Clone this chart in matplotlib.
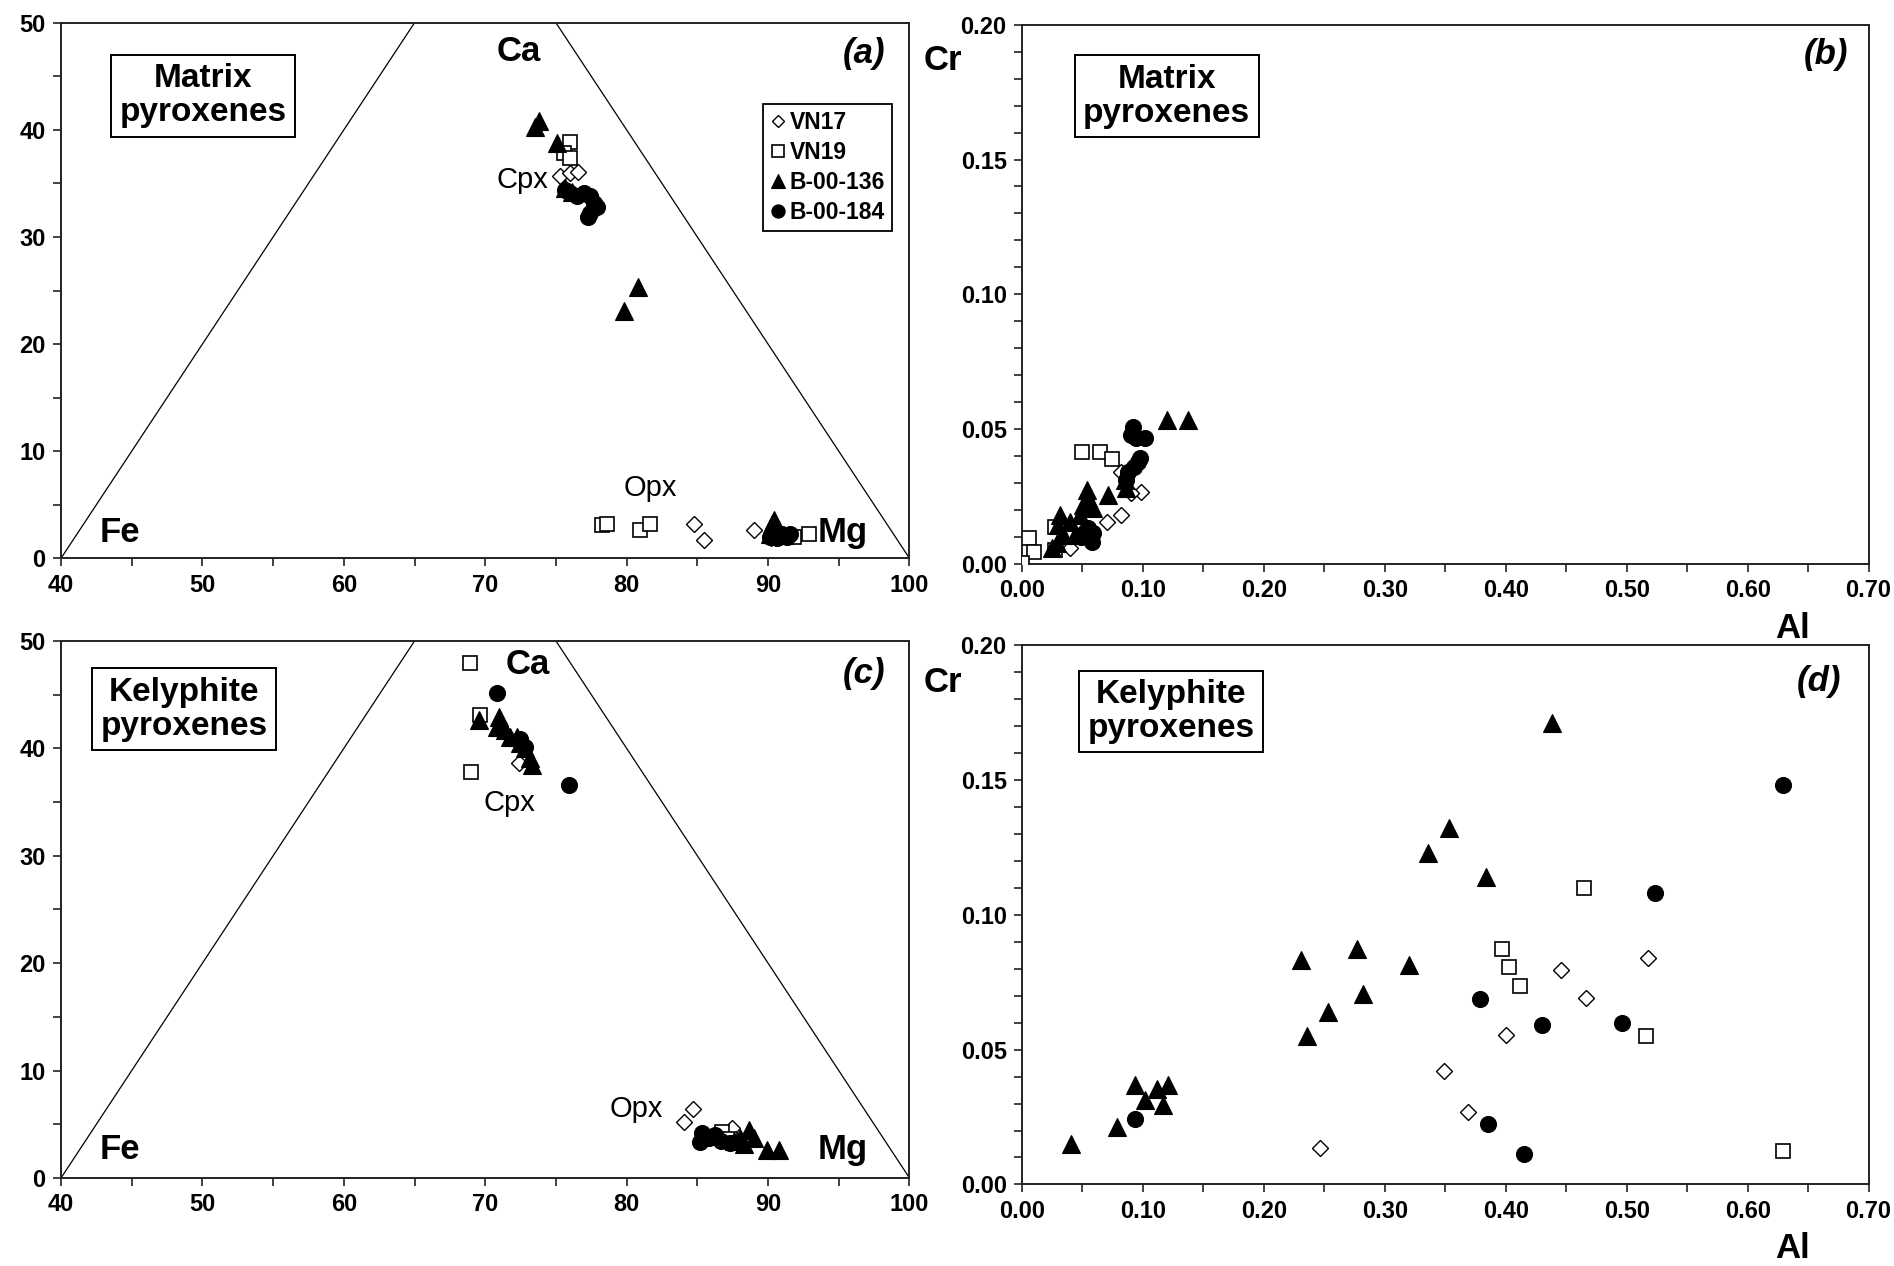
import matplotlib
matplotlib.use("Agg")
import matplotlib.pyplot as plt
from matplotlib.ticker import MultipleLocator, FormatStrFormatter
from matplotlib.lines import Line2D

plt.rcParams['font.family'] = ['Liberation Sans', 'DejaVu Sans']

# ---------------- data ----------------
# Panel (a) Matrix pyroxenes, ternary projection (x = Mg-axis, y = Ca)
a_vn17_x = [75.3, 75.97, 76.53, 84.74, 85.45, 88.99, 90.2]
a_vn17_y = [35.7, 35.95, 36.1, 3.24, 1.75, 2.62, 1.9]
a_vn19_x = [76.0, 75.54, 76.0, 78.26, 78.61, 80.97, 81.68, 91.82, 92.88]
a_vn19_y = [38.9, 37.8, 37.35, 3.08, 3.24, 2.62, 3.24, 1.99, 2.3]
a_b136_x = [73.82, 73.49, 75.07, 75.66, 76.1, 79.79, 80.81, 90.4, 90.28, 90.17, 90.64, 91.1]
a_b136_y = [40.87, 40.25, 38.8, 34.55, 34.2, 23.1, 25.3, 3.55, 3.24, 2.3, 2.62, 2.15]
a_b184_x = [75.66, 76.0, 76.5, 76.96, 77.4, 77.67, 77.9, 77.43, 77.3, 90.88, 91.35, 91.58, 90.17, 90.64]
a_b184_y = [34.4, 34.1, 33.8, 34.1, 33.8, 33.15, 32.8, 32.2, 31.9, 2.3, 2.0, 2.3, 2.0, 1.85]

# Panel (b) Matrix pyroxenes, Cr vs Al
b_vn17_x = [0.0986, 0.0904, 0.0822, 0.0699, 0.0822, 0.0397]
b_vn17_y = [0.0268, 0.0262, 0.0182, 0.0157, 0.0342, 0.0058]
b_vn19_x = [0.0493, 0.0644, 0.074, 0.0055, 0.0096, 0.0, 0.0274, 0.0274]
b_vn19_y = [0.0417, 0.0414, 0.039, 0.0095, 0.0046, 0.0002, 0.0052, 0.0138]
b_b136_x = [0.12, 0.137, 0.0534, 0.0548, 0.0589, 0.0712, 0.085, 0.0863, 0.0315, 0.0301,
            0.0342, 0.0288, 0.0247, 0.0397, 0.0438, 0.048, 0.0507]
b_b136_y = [0.0534, 0.0534, 0.0274, 0.0243, 0.0206, 0.0256, 0.0311, 0.028, 0.0182, 0.0145,
            0.0108, 0.0077, 0.0058, 0.0157, 0.0108, 0.0182, 0.0219]
b_b184_x = [0.0918, 0.0904, 0.0945, 0.1014, 0.0959, 0.093, 0.0973, 0.0877, 0.086,
            0.0548, 0.059, 0.049, 0.052, 0.0575]
b_b184_y = [0.0509, 0.0478, 0.0466, 0.0466, 0.038, 0.036, 0.0392, 0.0342, 0.031,
            0.0132, 0.0114, 0.0101, 0.012, 0.0083]

# Panel (c) Kelyphite pyroxenes, ternary projection
c_vn17_x = [72.36, 84.70, 84.03, 87.45]
c_vn17_y = [38.6, 6.40, 5.24, 4.63]
c_vn19_x = [68.89, 69.6, 69.0, 86.74, 87.3]
c_vn19_y = [47.98, 43.1, 37.83, 4.31, 3.6]
c_b136_x = [69.53, 71.0, 70.83, 71.42, 71.77, 72.24, 72.48, 72.83, 73.18, 73.3,
            88.63, 88.04, 89.0, 89.93, 90.75, 87.6, 88.3]
c_b136_y = [42.64, 42.95, 42.0, 41.7, 41.1, 41.1, 40.5, 40.0, 39.1, 38.45,
            4.47, 3.7, 3.7, 2.6, 2.6, 3.4, 3.2]
c_b184_x = [70.83, 72.48, 72.83, 75.9, 85.33, 85.2, 85.8, 86.27, 86.7, 87.33]
c_b184_y = [45.13, 40.9, 40.16, 36.6, 4.16, 3.38, 3.7, 4.0, 3.4, 3.23]

# Panel (d) Kelyphite pyroxenes, Cr vs Al
d_vn17_x = [0.246, 0.349, 0.369, 0.400, 0.446, 0.466, 0.518]
d_vn17_y = [0.0136, 0.042, 0.0269, 0.0556, 0.0795, 0.0693, 0.0841]
d_vn19_x = [0.397, 0.403, 0.412, 0.465, 0.516, 0.629]
d_vn19_y = [0.0873, 0.0808, 0.0735, 0.110, 0.0552, 0.0123]
d_b136_x = [0.0407, 0.0783, 0.0935, 0.1017, 0.1119, 0.1168, 0.121, 0.231, 0.236,
            0.253, 0.277, 0.282, 0.320, 0.336, 0.353, 0.438, 0.384]
d_b136_y = [0.0150, 0.0212, 0.0368, 0.0315, 0.0355, 0.0295, 0.0368, 0.0834, 0.055,
            0.064, 0.0874, 0.0705, 0.0815, 0.123, 0.132, 0.171, 0.114]
d_b184_x = [0.0935, 0.379, 0.385, 0.415, 0.430, 0.496, 0.523, 0.629]
d_b184_y = [0.0242, 0.0689, 0.0223, 0.0113, 0.0593, 0.060, 0.108, 0.148]

series_names = ['VN17', 'VN19', 'B-00-136', 'B-00-184']
legend_labels = ['VN17', 'VN19', 'B-00-136', 'B-00-184']

# ---------------- styles ----------------
styles = {
    'VN17': dict(marker='D', ms=8.5, mfc='white', mec='black', mew=1.0),
    'VN19': dict(marker='s', ms=10.5, mfc='white', mec='black', mew=1.2),
    'B-00-136': dict(marker='^', ms=12.5, mfc='black', mec='black', mew=0.8),
    'B-00-184': dict(marker='o', ms=11.5, mfc='black', mec='black', mew=0.8),
}

fig = plt.figure(figsize=(18.94, 12.66), dpi=100)
fig.patch.set_facecolor('white')

pos = {
    'a': [0.0322, 0.559, 0.448, 0.423],
    'b': [0.5396, 0.5545, 0.447, 0.426],
    'c': [0.0322, 0.0695, 0.448, 0.4242],
    'd': [0.5396, 0.0644, 0.447, 0.4261],
}

tick_fs = 17
bold = 'bold'


def style_axes(ax):
    for s in ax.spines.values():
        s.set_linewidth(1.4)
        s.set_color('#222222')
    ax.tick_params(which='both', direction='out', top=False, right=False,
                   width=1.2, color='#222222')
    ax.tick_params(which='major', length=6, labelsize=tick_fs, pad=5)
    ax.tick_params(which='minor', length=6)
    for lab in ax.get_xticklabels() + ax.get_yticklabels():
        lab.set_fontweight(bold)


def plot_series(ax, data):
    for name, (xs, ys) in zip(series_names, data):
        st = styles[name]
        ax.plot(xs, ys, ls='none', marker=st['marker'], ms=st['ms'],
                mfc=st['mfc'], mec=st['mec'], mew=st['mew'], zorder=3)


def ternary(ax, data):
    ax.set_xlim(40, 100)
    ax.set_ylim(0, 50)
    ax.plot([40, 70], [0, 60], color='black', lw=0.9, zorder=2)
    ax.plot([100, 70], [0, 60], color='black', lw=0.9, zorder=2)
    ax.xaxis.set_major_locator(MultipleLocator(10))
    ax.xaxis.set_minor_locator(MultipleLocator(5))
    ax.yaxis.set_major_locator(MultipleLocator(10))
    ax.yaxis.set_minor_locator(MultipleLocator(5))
    plot_series(ax, data)
    style_axes(ax)


def crplot(ax, data):
    ax.set_xlim(0, 0.7)
    ax.set_ylim(0, 0.2)
    ax.xaxis.set_major_locator(MultipleLocator(0.1))
    ax.xaxis.set_minor_locator(MultipleLocator(0.05))
    ax.yaxis.set_major_locator(MultipleLocator(0.05))
    ax.yaxis.set_minor_locator(MultipleLocator(0.01))
    ax.xaxis.set_major_formatter(FormatStrFormatter('%.2f'))
    ax.yaxis.set_major_formatter(FormatStrFormatter('%.2f'))
    plot_series(ax, data)
    style_axes(ax)
    for s in ax.spines.values():
        s.set_clip_on(False)


box_kw = dict(boxstyle='square,pad=0.25', fc='white', ec='black', lw=1.4)
big_fs = 24
lab_fs = 25

# ---- (a)
axa = fig.add_axes(pos['a'])
ternary(axa, [(a_vn17_x, a_vn17_y), (a_vn19_x, a_vn19_y),
              (a_b136_x, a_b136_y), (a_b184_x, a_b184_y)])
axa.text(0.1675, 0.8636, 'Matrix\npyroxenes', transform=axa.transAxes, ha='center',
         va='center', fontsize=big_fs, fontweight='bold', linespacing=1.12, bbox=box_kw, zorder=5)
axa.text(0.947, 0.942, '(a)', transform=axa.transAxes, ha='center', va='center',
         fontsize=25, fontweight='bold', style='italic')
axa.text(72.4, 47.3, 'Ca', ha='center', va='center', fontsize=lab_fs, fontweight='bold')
axa.text(44.2, 2.4, 'Fe', ha='center', va='center', fontsize=lab_fs, fontweight='bold')
axa.text(95.3, 2.4, 'Mg', ha='center', va='center', fontsize=lab_fs, fontweight='bold')
axa.text(72.6, 35.3, 'Cpx', ha='center', va='center', fontsize=21)
axa.text(81.7, 6.6, 'Opx', ha='center', va='center', fontsize=21)

handles = []
leg_ms = {'VN17': 6.5, 'VN19': 9, 'B-00-136': 10, 'B-00-184': 9.5}
for name in series_names:
    st = styles[name]
    handles.append(Line2D([], [], ls='none', marker=st['marker'], ms=leg_ms[name],
                          mfc=st['mfc'], mec=st['mec'], mew=st['mew']))
leg = axa.legend(handles, legend_labels, loc='upper right', bbox_to_anchor=(0.979, 0.848),
                 frameon=True, fancybox=False, edgecolor='black', framealpha=1,
                 prop=dict(weight='bold', size=16.5), handlelength=0.7, handletextpad=0.15,
                 borderpad=0.3, labelspacing=0.3, borderaxespad=0)
leg.get_frame().set_linewidth(1.3)

# ---- (b)
axb = fig.add_axes(pos['b'])
crplot(axb, [(b_vn17_x, b_vn17_y), (b_vn19_x, b_vn19_y),
             (b_b136_x, b_b136_y), (b_b184_x, b_b184_y)])
axb.text(0.171, 0.8675, 'Matrix\npyroxenes', transform=axb.transAxes, ha='center',
         va='center', fontsize=big_fs, fontweight='bold', linespacing=1.12, bbox=box_kw, zorder=5)
axb.text(0.950, 0.945, '(b)', transform=axb.transAxes, ha='center', va='center',
         fontsize=25, fontweight='bold', style='italic')
fig.text(943 / 1894, 1 - 60 / 1266, 'Cr', ha='center', va='center', fontsize=lab_fs, fontweight='bold')
fig.text(1793 / 1894, 1 - 628 / 1266, 'Al', ha='center', va='center', fontsize=lab_fs, fontweight='bold')

# ---- (c)
axc = fig.add_axes(pos['c'])
ternary(axc, [(c_vn17_x, c_vn17_y), (c_vn19_x, c_vn19_y),
              (c_b136_x, c_b136_y), (c_b184_x, c_b184_y)])
axc.text(0.145, 0.873, 'Kelyphite\npyroxenes', transform=axc.transAxes, ha='center',
         va='center', fontsize=big_fs, fontweight='bold', linespacing=1.12, bbox=box_kw, zorder=5)
axc.text(0.947, 0.940, '(c)', transform=axc.transAxes, ha='center', va='center',
         fontsize=25, fontweight='bold', style='italic')
axc.text(73.0, 47.8, 'Ca', ha='center', va='center', fontsize=lab_fs, fontweight='bold')
axc.text(44.2, 2.7, 'Fe', ha='center', va='center', fontsize=lab_fs, fontweight='bold')
axc.text(95.3, 2.7, 'Mg', ha='center', va='center', fontsize=lab_fs, fontweight='bold')
axc.text(71.7, 34.9, 'Cpx', ha='center', va='center', fontsize=21)
axc.text(80.7, 6.4, 'Opx', ha='center', va='center', fontsize=21)

# ---- (d)
axd = fig.add_axes(pos['d'])
crplot(axd, [(d_vn17_x, d_vn17_y), (d_vn19_x, d_vn19_y),
             (d_b136_x, d_b136_y), (d_b184_x, d_b184_y)])
axd.text(0.176, 0.8766, 'Kelyphite\npyroxenes', transform=axd.transAxes, ha='center',
         va='center', fontsize=big_fs, fontweight='bold', linespacing=1.12, bbox=box_kw, zorder=5)
axd.text(0.941, 0.932, '(d)', transform=axd.transAxes, ha='center', va='center',
         fontsize=25, fontweight='bold', style='italic')
fig.text(943 / 1894, 1 - 682 / 1266, 'Cr', ha='center', va='center', fontsize=lab_fs, fontweight='bold')
fig.text(1793 / 1894, 1 - 1248 / 1266, 'Al', ha='center', va='center', fontsize=lab_fs, fontweight='bold')

fig.savefig('out.png', dpi=100, facecolor='white')
